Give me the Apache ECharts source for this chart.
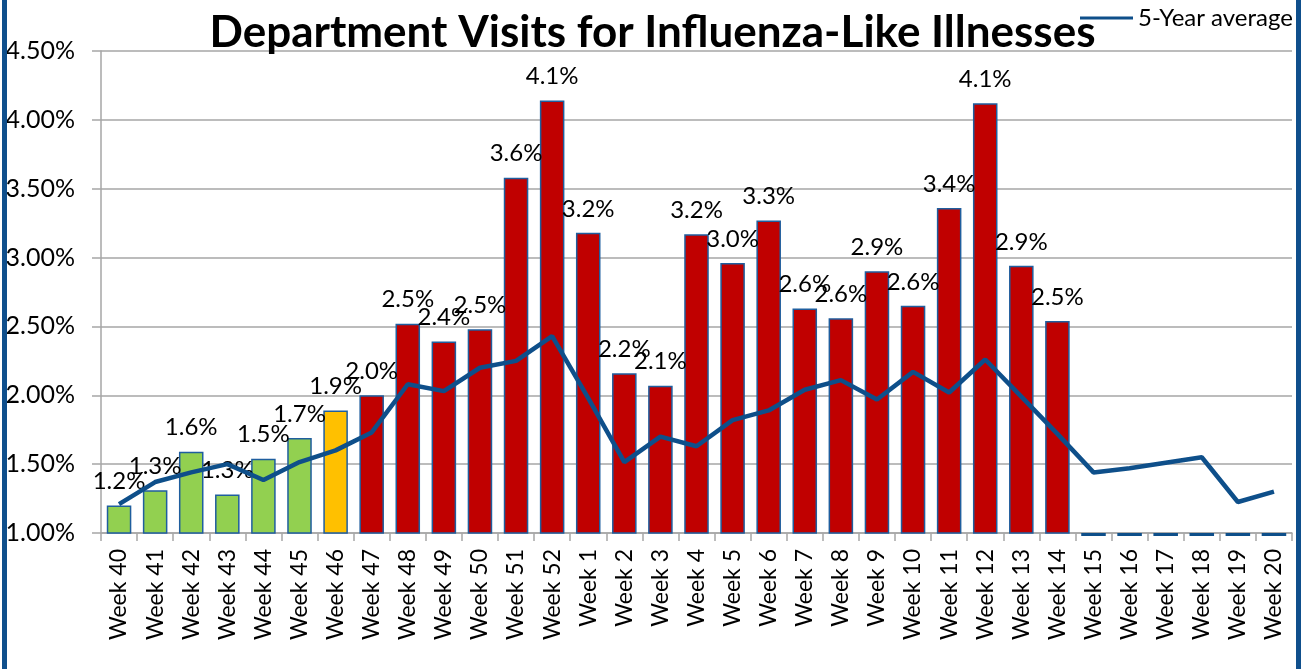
<!DOCTYPE html>
<html>
<head>
<meta charset="utf-8">
<script src="https://cdn.jsdelivr.net/npm/echarts@6/dist/echarts.min.js"></script>
<style>
  html, body { margin: 0; padding: 0; background: #fff; }
  #chart { width: 1305px; height: 669px; position: relative; }
  .edge { position: absolute; top: 0; width: 5px; height: 669px; background: #0F4F8C; z-index: 5; }
</style>
</head>
<body>
<div id="chart"></div>
<div class="edge" style="left:2px"></div>
<div class="edge" style="left:1296px"></div>
<script>
// weeks of the season
const weeks = ['Week 40', 'Week 41', 'Week 42', 'Week 43', 'Week 44', 'Week 45', 'Week 46',
  'Week 47', 'Week 48', 'Week 49', 'Week 50', 'Week 51', 'Week 52', 'Week 1', 'Week 2',
  'Week 3', 'Week 4', 'Week 5', 'Week 6', 'Week 7', 'Week 8', 'Week 9', 'Week 10',
  'Week 11', 'Week 12', 'Week 13', 'Week 14', 'Week 15', 'Week 16', 'Week 17', 'Week 18',
  'Week 19', 'Week 20'];

// % of ED visits for ILI this season (weeks 15-20 not reported yet -> 0)
const visits = [1.20, 1.31, 1.59, 1.28, 1.54, 1.69, 1.89, 2.00, 2.52, 2.39, 2.48, 3.58, 4.14,
  3.18, 2.16, 2.07, 3.17, 2.96, 3.27, 2.63, 2.56, 2.90, 2.65, 3.36, 4.12, 2.94, 2.54,
  0, 0, 0, 0, 0, 0];

// 5-year average
const avg5 = [1.21, 1.37, 1.44, 1.50, 1.385, 1.515, 1.60, 1.73, 2.08, 2.03, 2.20, 2.25, 2.43,
  1.98, 1.515, 1.70, 1.63, 1.82, 1.89, 2.04, 2.11, 1.97, 2.17, 2.02, 2.26, 1.99, 1.72,
  1.44, 1.47, 1.51, 1.55, 1.225, 1.30];

const yTicks = { min: 1.0, max: 4.5, step: 0.5 };

const font = 'Lato';
const blue = '#0E4F8A';
const barShare = 0.68;
const chart = echarts.init(document.getElementById('chart'));

function barColor(i) {
  if (i <= 5) return '#92D050';
  if (i === 6) return '#FFC000';
  return '#C00000';
}

// bars below the axis minimum only leave their outline on the axis (like Excel)
const emptyWeeks = [];
visits.forEach((v, i) => { if (v <= yTicks.min) emptyWeeks.push([i, yTicks.min]); });

chart.setOption({
  animation: false,
  textStyle: { fontFamily: font },
  title: {
    text: 'Department Visits for Influenza-Like Illnesses',
    left: 'center',
    top: 6,
    textStyle: { fontFamily: font, fontWeight: 'bold', fontSize: 44, color: '#000' }
  },
  legend: {
    data: ['5-Year average'],
    left: 1075,
    top: 1,
    itemWidth: 53,
    itemHeight: 3,
    itemGap: 0,
    icon: 'rect',
    textStyle: { fontFamily: font, fontSize: 24, color: '#000' }
  },
  grid: { left: 101, right: 13, top: 51, bottom: 136 },
  xAxis: {
    type: 'category',
    data: weeks,
    axisLine: { lineStyle: { color: '#A6A6A6', width: 1.5 } },
    axisTick: { show: true, length: 8, lineStyle: { color: '#A6A6A6', width: 1.5 } },
    axisLabel: { rotate: 90, interval: 0, margin: 16, fontSize: 23, color: '#000', fontFamily: font }
  },
  yAxis: {
    type: 'value',
    min: yTicks.min,
    max: yTicks.max,
    interval: yTicks.step,
    axisLine: { show: true, lineStyle: { color: '#A6A6A6', width: 1.5 } },
    axisTick: { show: true, length: 9, lineStyle: { color: '#A6A6A6', width: 1.5 } },
    splitLine: { lineStyle: { color: '#A6A6A6', width: 1.5 } },
    axisLabel: {
      margin: 26, fontSize: 25, color: '#000', fontFamily: font,
      formatter: v => v.toFixed(2) + '%'
    }
  },
  series: [
    {
      name: 'ED visits',
      type: 'bar',
      data: visits,
      barWidth: (barShare * 100) + '%',
      itemStyle: {
        color: p => barColor(p.dataIndex),
        borderColor: '#1F5E9E',
        borderWidth: 1.5
      },
      label: {
        show: true,
        position: 'top',
        distance: 12,
        fontSize: 24,
        color: '#000',
        fontFamily: font,
        formatter: p => (p.value > yTicks.min ? p.value.toFixed(1) + '%' : '')
      },
      z: 2
    },
    {
      name: 'empty weeks',
      type: 'custom',
      data: emptyWeeks,
      silent: true,
      renderItem: (params, api) => {
        const pt = api.coord([api.value(0), api.value(1)]);
        const w = api.size([1, 0])[0] * barShare;
        return {
          type: 'line',
          shape: { x1: pt[0] - w / 2, y1: pt[1] + 1.5, x2: pt[0] + w / 2, y2: pt[1] + 1.5 },
          style: { stroke: blue, lineWidth: 3 }
        };
      },
      z: 2
    },
    {
      name: '5-Year average',
      type: 'line',
      data: avg5,
      showSymbol: false,
      symbol: 'none',
      lineStyle: { color: blue, width: 4.5 },
      itemStyle: { color: blue },
      z: 3
    }
  ]
});
</script>
</body>
</html>
